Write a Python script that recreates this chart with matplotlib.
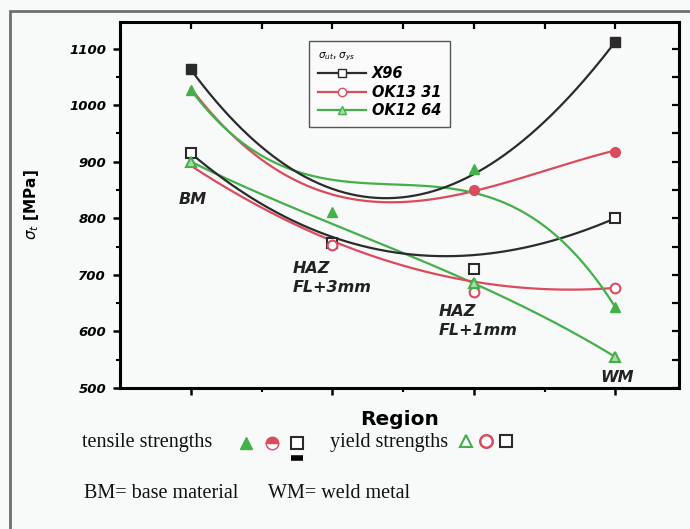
import numpy as np
import matplotlib
matplotlib.use("Agg")
import matplotlib.pyplot as plt
from matplotlib.lines import Line2D
from matplotlib.patches import Rectangle

# ---- data ----
regions = [1, 2, 3, 4]
region_labels = ["BM", "HAZ\nFL+3mm", "HAZ\nFL+1mm", "WM"]
series = ["X96", "OK13 31", "OK12 64"]

# fitted curve values (where the smooth lines pass at each region)
x96_ts_curve = [1063, 852, 878, 1112]
ok1331_ts_curve = [1030, 842, 848, 920]
ok1264_ts_curve = [1027, 868, 845, 643]
x96_ys_curve = [915, 767, 735, 800]
ok1331_ys_curve = [893, 760, 688, 677]
ok1264_ys_curve = [900, 790, 685, 555]

# measured points (markers)
x96_ts_regions = [1, 4]
x96_ts = [1063, 1112]
ok1331_ts_regions = [3, 4]
ok1331_ts = [850, 918]
ok1264_ts_regions = [1, 2, 3, 4]
ok1264_ts = [1027, 811, 887, 643]
x96_ys_regions = [1, 2, 3, 4]
x96_ys = [915, 757, 710, 800]
ok1331_ys_regions = [2, 3, 4]
ok1331_ys = [753, 670, 677]
ok1264_ys_regions = [1, 3, 4]
ok1264_ys = [900, 685, 555]

yticks = [500, 600, 700, 800, 900, 1000, 1100]

BLACK = "#2b2b2b"
RED = "#dc4a5e"
GREEN = "#43b04a"

fig = plt.figure(figsize=(6.9, 5.29), dpi=100)
fig.patch.set_facecolor("#f8f9f9")
ax = fig.add_axes([0.174, 0.2665, 0.81, 0.692])
ax.set_facecolor("#f8f9f9")

xs = np.linspace(1, 4, 200)
def smooth(vals):
    c = np.polyfit(regions, vals, 3)
    return np.polyval(c, xs)

lw = 1.6
for vals, col in [(ok1264_ys_curve, GREEN), (ok1331_ys_curve, RED), (x96_ys_curve, BLACK),
                  (ok1331_ts_curve, RED), (ok1264_ts_curve, GREEN), (x96_ts_curve, BLACK)]:
    ax.plot(xs, smooth(vals), color=col, lw=lw, zorder=2)

ms = 7
ax.plot(x96_ts_regions, x96_ts, ls="none", marker="s", ms=ms, color=BLACK, zorder=4)
ax.plot(ok1331_ts_regions, ok1331_ts, ls="none", marker="o", ms=ms, color=RED, zorder=4)
ax.plot(ok1264_ts_regions, ok1264_ts, ls="none", marker="^", ms=ms, color=GREEN, zorder=4)
ax.plot(x96_ys_regions, x96_ys, ls="none", marker="s", ms=ms, mfc="white", mec=BLACK, mew=1.5, zorder=4)
ax.plot(ok1331_ys_regions, ok1331_ys, ls="none", marker="o", ms=ms, mfc="white", mec=RED, mew=1.5, zorder=4)
ax.plot(ok1264_ys_regions, ok1264_ys, ls="none", marker="^", ms=ms, mfc="#a8dca8", mec=GREEN, mew=1.5, zorder=4)

ax.set_xlim(0.5, 4.45)
ax.set_ylim(500, 1147)
ax.set_yticks(yticks)
ax.set_yticks(np.arange(550, 1147, 100), minor=True)
ax.set_xticks(regions)
ax.set_xticks([1.5, 2.5, 3.5], minor=True)
ax.set_xticklabels([])
for lab in ax.get_yticklabels():
    lab.set_fontstyle("italic")
    lab.set_fontweight("bold")
    lab.set_fontsize(9.5)
ax.tick_params(axis="both", which="major", length=5, width=1.8, direction="out", pad=5)
ax.tick_params(axis="both", which="minor", length=3, width=1.5, direction="out")
for s in ax.spines.values():
    s.set_linewidth(2.2)
axt = ax.secondary_xaxis("top")
axt.set_xticks(regions)
axt.set_xticks([1.5, 2.5, 3.5], minor=True)
axt.tick_params(which="both", direction="in", labeltop=False, length=5, width=1.6)
axr = ax.secondary_yaxis("right")
axr.set_yticks(yticks)
axr.set_yticks(np.arange(550, 1147, 100), minor=True)
axr.tick_params(which="both", direction="in", labelright=False, length=5, width=1.6)

ax.set_ylabel(r"$\sigma_t$ [MPa]", fontsize=11, fontweight="bold", labelpad=20)
ax.set_xlabel("Region", fontsize=14.5, fontweight="bold", labelpad=6)

# region annotations
tk = dict(fontsize=11.5, fontstyle="italic", fontweight="bold", color="#222222", va="center")
ax.text(1.01, 834, "BM", ha="center", **tk)
ax.text(1.72, 712, "HAZ", ha="left", **tk)
ax.text(1.72, 677, "FL+3mm", ha="left", **tk)
ax.text(2.75, 636, "HAZ", ha="left", **tk)
ax.text(2.75, 602, "FL+1mm", ha="left", **tk)
ax.text(4.01, 519, "WM", ha="center", **tk)

handles = [Line2D([], [], color=BLACK, lw=lw, marker="s", ms=6, mfc="white", mec=BLACK),
           Line2D([], [], color=RED, lw=lw, marker="o", ms=6, mfc="white", mec=RED),
           Line2D([], [], color=GREEN, lw=lw, marker="^", ms=6, mfc="#a8dca8", mec=GREEN)]
leg = ax.legend(handles, series, loc="upper left", bbox_to_anchor=(0.338, 0.948),
                borderaxespad=0,
                title=r"$\sigma_{ut}$, $\sigma_{ys}$", title_fontsize=7.5,
                prop=dict(size=10.5, style="italic", weight="bold"),
                fancybox=False, edgecolor="#555555", framealpha=1, facecolor="#fafafa",
                handlelength=3.3, handletextpad=0.4, borderpad=0.6, labelspacing=0.25,
                alignment="left")
leg.get_frame().set_linewidth(1.0)

# outer frame
fig.add_artist(Rectangle((10 / 690, -0.05), 1.2, 1 - 11 / 529 + 0.05, transform=fig.transFigure,
                         fill=False, edgecolor="#6f6f6f", lw=2, clip_on=False))

# bottom key
sk = dict(fontsize=14.5, family="Liberation Serif", color="#111111", va="center")
fig.text(82 / 690, 1 - 442 / 529, "tensile strengths", **sk)
fig.text(330 / 690, 1 - 442 / 529, "yield strengths", **sk)
fig.text(84 / 690, 1 - 493 / 529, "BM= base material", **sk)
fig.text(268 / 690, 1 - 493 / 529, "WM= weld metal", **sk)

def key(px, py, **kw):
    fig.add_artist(Line2D([px / 690], [1 - py / 529], transform=fig.transFigure, ls="none", **kw))

key(246, 443, marker="^", ms=9, color=GREEN)
key(272, 443, marker="o", ms=9, color=RED, fillstyle="top", markerfacecoloralt="white", mec=RED)
key(297, 443, marker="s", ms=8.5, mfc="white", mec=BLACK, mew=1.5)
fig.add_artist(Line2D([291 / 690, 303 / 690], [1 - 458 / 529] * 2, transform=fig.transFigure,
                      color="black", lw=4, solid_capstyle="butt"))
key(466, 441, marker="^", ms=9, mfc="white", mec=GREEN, mew=1.5)
key(486, 441, marker="o", ms=9, mfc="white", mec=RED, mew=1.8)
key(506, 441, marker="s", ms=8.5, mfc="white", mec=BLACK, mew=1.5)

fig.savefig("out.png", dpi=100, facecolor=fig.get_facecolor())
